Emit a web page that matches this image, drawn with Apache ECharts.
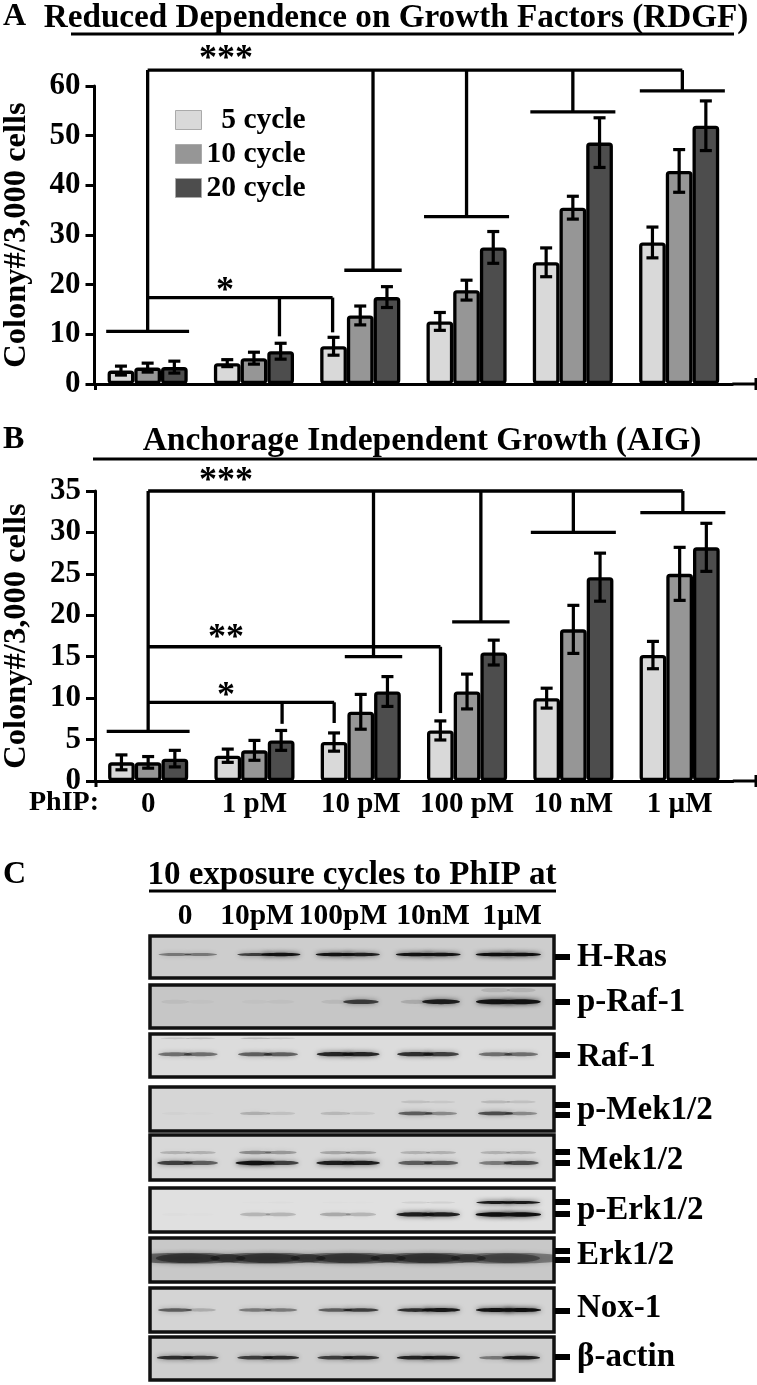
<!DOCTYPE html>
<html><head><meta charset="utf-8">
<style>html,body{margin:0;padding:0;background:#fff}#c{width:757px;height:1385px}</style>
<script src="https://cdn.jsdelivr.net/npm/echarts@6/dist/echarts.min.js"></script>
</head><body><div id="c"></div>
<script>
// ---------- data ----------
const doses = ['0','1 pM','10 pM','100 pM','10 nM','1 µM'];
const cycles = ['5 cycle','10 cycle','20 cycle'];
const rdgf5  = [2.7,4.2,7.6,12.6,24.5,28.5];
const rdgf10 = [3.3,5.2,13.8,18.9,35.5,42.9];
const rdgf20 = [3.4,6.6,17.5,27.5,48.6,52.0];
const rdgfErr5  = [0.9,0.7,1.8,1.8,2.9,3.1];
const rdgfErr10 = [0.9,1.2,1.9,2.0,2.3,4.3];
const rdgfErr20 = [1.2,1.6,2.1,3.2,5.0,5.0];
const aig5  = [2.25,3.05,4.7,6.1,10.0,15.2];
const aig10 = [2.25,3.7,8.35,10.8,18.3,25.0];
const aig20 = [2.7,4.9,10.8,15.5,24.6,28.2];
const aigErr5  = [0.9,0.8,1.1,1.15,1.2,1.65];
const aigErr10 = [0.7,1.2,2.1,2.1,2.9,3.2];
const aigErr20 = [1.0,1.2,1.8,1.5,2.9,2.9];
// significance brackets: [group position, value]
const rdgfTop = 63.2;
const rdgfCaps = [[0,10.6,.39],[2.12,22.9,.27],[3,33.7,.4],[4,54.8,.4],[5.03,59,.4]];
const rdgfLow = [{level:17.4,ends:[[1.24,9.6],[1.74,10.4]]}];
const aigTop = 35.0;
const aigCaps = [[0,6.0,.39],[2.12,15,.27],[3.13,19.2,.27],[4,30,.4],[5.03,32.4,.4]];
const aigLow = [{level:16.2,ends:[[2.75,8.2]]},{level:9.5,ends:[[1.26,6.9],[1.75,7.0]]}];
// western blots
const blotLanes = ['0','10pM','100pM','10nM','1µM'];
const hRas = [[.5,.5],[.7,.95],[.95,.85],[.95,.95],[1,1]];
const pRafSmear = [[0,0],[0,0],[0,0],[0,0],[.2,.2]];
const pRaf = [[.12,.06],[.06,.08],[.15,.7],[.25,.85],[.95,.95]];
const rafSmear = [[.22,.25],[.28,.2],[0,0],[0,0],[0,0]];
const raf = [[.55,.55],[.6,.6],[.8,.8],[.75,.7],[.55,.55]];
const pMekUp = [[0,0],[0,0],[0,0],[.2,.15],[.25,.2]];
const pMekLo = [[.05,.03],[.3,.2],[.25,.15],[.6,.45],[.65,.45]];
const mekUp = [[.3,.3],[.45,.4],[.35,.35],[.3,.3],[.3,.3]];
const mekLo = [[.7,.6],[.95,.7],[.85,.85],[.6,.6],[.5,.65]];
const pErkUp = [[0,0],[.02,.04],[.03,.02],[.15,.15],[.9,.9]];
const pErkLo = [[.03,.02],[.3,.3],[.35,.3],[.85,.85],[1,1]];
const erk = [[.55,.55],[.55,.55],[.52,.55],[.55,.55],[.5,.48]];
const nox = [[.6,.3],[.5,.5],[.6,.7],[.75,.9],[.95,1]];
const actin = [[.75,.7],[.7,.75],[.7,.75],[.8,.85],[.5,.85]];
const blotNames = ['H-Ras','p-Raf-1','Raf-1','p-Mek1/2','Mek1/2','p-Erk1/2','Erk1/2','Nox-1','β-actin'];

// ---------- layout ----------
const SERIF = '"Liberation Serif","Times New Roman",serif';
const blots = [
 {top:936,h:42,bg:'#cdcdcd',rows:[[.44,hRas,2.5]],label:957,ticks:[957]},
 {top:985,h:43,bg:'#c6c6c6',rows:[[.12,pRafSmear,4],[.39,pRaf,4]],label:1002,ticks:[1002]},
 {top:1034,h:43,bg:'#dcdcdc',rows:[[.1,rafSmear,1.5],[.47,raf,3.5]],label:1057,ticks:[1055]},
 {top:1087,h:44,bg:'#d6d6d6',rows:[[.34,pMekUp,2.5],[.6,pMekLo,3]],label:1110,ticks:[1105,1115]},
 {top:1135,h:45,bg:'#d8d8d8',rows:[[.39,mekUp,3],[.62,mekLo,3.5]],label:1160,ticks:[1152,1163]},
 {top:1188,h:44,bg:'#e0e0e0',rows:[[.33,pErkUp,2],[.6,pErkLo,3.5]],label:1210,ticks:[1202,1214]},
 {top:1238,h:44,bg:'#c8c8c8',rows:[[.46,erk,10]],label:1255,ticks:[1251,1260],wide:true},
 {top:1288,h:44,bg:'#d4d4d4',rows:[[.5,nox,3]],label:1308,ticks:[1311]},
 {top:1337,h:43,bg:'#cfcfcf',rows:[[.48,actin,3]],label:1357,ticks:[1357]}
];
const fills = ['#d9d9d9','#969696','#4d4d4d'];
const PITCH = 106.3, BARW = 26.7;
const grids=[], xAxes=[], yAxes=[], series=[], gfx=[];

function line(x1,y1,x2,y2,w){ gfx.push({type:'line',shape:{x1,y1,x2,y2},style:{stroke:'#000',lineWidth:w||3},z:5}); }
function txt(s,x,y,size,align){ gfx.push({type:'text',x,y,style:{text:s,font:'bold '+size+'px '+SERIF,fill:'#000',textAlign:align||'left',textVerticalAlign:'middle'},z:6}); }

function panel(left,top,height,ymax,step,vals,errs,capsTop,caps,low,showLabels,yGap){
  const g=grids.length;
  grids.push({left,top,width:PITCH*6,height,outerBoundsMode:'none'});
  const xCat=xAxes.length;
  xAxes.push({type:'category',gridIndex:g,data:doses,axisLine:{onZero:false,lineStyle:{color:'#000',width:3}},axisTick:{show:false},
    axisLabel:{show:showLabels,color:'#000',fontFamily:SERIF,fontWeight:'bold',fontSize:29,margin:9,interval:0}});
  xAxes.push({type:'value',gridIndex:g,min:-.5,max:5.5,show:false});
  const yi=yAxes.length;
  yAxes.push({type:'value',gridIndex:g,min:0,max:ymax,interval:step,
    name:'Colony#/3,000 cells',nameLocation:'middle',nameRotate:90,nameGap:yGap,
    nameTextStyle:{color:'#000',fontFamily:SERIF,fontWeight:'bold',fontSize:32.5},
    axisLine:{show:true,onZero:false,lineStyle:{color:'#000',width:3}},axisTick:{show:true,length:9,lineStyle:{color:'#000',width:3}},
    splitLine:{show:false},axisLabel:{color:'#000',fontFamily:SERIF,fontWeight:'bold',fontSize:31,margin:14}});
  vals.forEach((v,s)=>series.push({type:'bar',name:cycles[s],xAxisIndex:xCat,yAxisIndex:yi,data:v,barWidth:BARW,barGap:'0%',
    itemStyle:{color:fills[s],borderColor:'#000',borderWidth:3.3,borderRadius:2},z:2,silent:true}));
  // error bars
  const errData=[];
  vals.forEach((v,s)=>v.forEach((y,i)=>errData.push([i+(s-1)*BARW/PITCH,y-errs[s][i],y+errs[s][i]])));
  series.push({type:'custom',xAxisIndex:xCat+1,yAxisIndex:yi,data:errData,z:4,silent:true,clip:false,encode:{x:0,y:[1,2]},
    renderItem(p,api){
      const a=api.coord([api.value(0),api.value(1)]),b=api.coord([api.value(0),api.value(2)]);
      const st={stroke:'#000',lineWidth:3.2,fill:null};
      return {type:'group',children:[
        {type:'line',shape:{x1:a[0],y1:a[1],x2:b[0],y2:b[1]},style:st},
        {type:'line',shape:{x1:a[0]-6,y1:a[1],x2:a[0]+6,y2:a[1]},style:st},
        {type:'line',shape:{x1:b[0]-6,y1:b[1],x2:b[0]+6,y2:b[1]},style:st}]};
    }});
  // brackets
  const seg=[];
  const lastCap=caps[caps.length-1];
  seg.push([0,capsTop,lastCap[0],capsTop]);
  caps.forEach(c=>{seg.push([c[0],capsTop,c[0],c[1]]);seg.push([c[0]-c[2],c[1],c[0]+c[2],c[1]]);});
  low.forEach(b=>{const far=Math.max(...b.ends.map(e=>e[0]));seg.push([0,b.level,far,b.level]);b.ends.forEach(e=>seg.push([e[0],b.level,e[0],e[1]]));});
  series.push({type:'custom',xAxisIndex:xCat+1,yAxisIndex:yi,data:seg,z:3,silent:true,clip:false,encode:{x:[0,2],y:[1,3]},
    renderItem(p,api){
      const a=api.coord([api.value(0),api.value(1)]),b=api.coord([api.value(2),api.value(3)]);
      return {type:'line',shape:{x1:a[0],y1:a[1],x2:b[0],y2:b[1]},style:{stroke:'#000',lineWidth:3.3}};
    }});
  // axis extension and end ticks
  const y0=top+height, xr=left+PITCH*6;
  line(xr,y0,756,y0,3); line(756,y0-6,756,y0+6,3); line(left+1,y0,left+1,y0+6,3);
}
panel(94.5,86,298,60,10,[rdgf5,rdgf10,rdgf20],[rdgfErr5,rdgfErr10,rdgfErr20],rdgfTop,rdgfCaps,rdgfLow,false,61);
panel(95,491,290,35,5,[aig5,aig10,aig20],[aigErr5,aigErr10,aigErr20],aigTop,aigCaps,aigLow,true,62);

// blots
blots.forEach((b,k)=>{
  const g=grids.length;
  grids.push({left:150,top:b.top,width:404,height:b.h,show:true,backgroundColor:b.bg,borderColor:'#111',borderWidth:3.5,outerBoundsMode:'none'});
  xAxes.push({type:'value',gridIndex:g,min:-.473,max:4.57,show:false});
  yAxes.push({type:'value',gridIndex:g,min:0,max:1,inverse:true,show:false});
  const data=[];
  b.rows.forEach(r=>r[1].forEach((lobes,lane)=>{
    lobes.forEach((v,side)=>{ if(v>0) data.push([lane+(side?.16:-.16),r[0],v,r[2]]); });
  }));
  const wide=b.wide?28:0;
  series.push({type:'custom',xAxisIndex:xAxes.length-1,yAxisIndex:yAxes.length-1,data,silent:true,z:2,clip:true,encode:{x:0,y:1},
    renderItem(p,api){
      const c=api.coord([api.value(0),api.value(1)]),v=api.value(2),t=api.value(3);
      return {type:'ellipse',shape:{cx:c[0],cy:c[1],rx:13+7*v+wide,ry:t/2+v*.5},
        style:{fill:'rgba(15,15,15,'+(.25+.75*v)*Math.min(1,v*1.3)+')',shadowBlur:5,shadowColor:'rgba(0,0,0,'+v*.8+')'}};
    }});
  txt(blotNames[k],577,b.label,33);
  b.ticks.forEach(t=>line(555,t,570,t,6));
});

// text annotations
txt('A',3,17,32); txt('B',3,440,32); txt('C',3,875,32);
txt('Reduced Dependence on Growth Factors (RDGF)',396,18,33.2,'center');
line(71,34,734,34,3);
txt('Anchorage Independent Growth (AIG)',422,441,33.5,'center');
line(93,459,757,459,3);
txt('***',226,60,36,'center'); txt('*',225,292,36,'center');
txt('***',226,482,36,'center'); txt('**',226,639,36,'center'); txt('*',226,697,36,'center');
txt('PhIP:',29,803,28);
txt('10 exposure cycles to PhIP at',352,875,33,'center');
line(149,891,556,891,3);
[185,257,343,433,512].forEach((x,i)=>txt(blotLanes[i],x,916,29.5,'center'));

const chart=echarts.init(document.getElementById('c'),null,{renderer:'canvas'});
chart.setOption({
  animation:false,backgroundColor:'#fff',
  grid:grids,xAxis:xAxes,yAxis:yAxes,series,
  legend:{show:true,orient:'vertical',left:170,top:100,itemWidth:26,itemHeight:19,itemGap:4,icon:'rect',selectedMode:false,
    data:cycles,formatter:n=>n.length<8?'  '+n:n,
    itemStyle:{borderColor:'#aaa',borderWidth:1},
    textStyle:{color:'#000',fontFamily:SERIF,fontWeight:'bold',fontSize:29.5,lineHeight:29,padding:[0,0,0,0]}},
  graphic:gfx
});
</script></body></html>
